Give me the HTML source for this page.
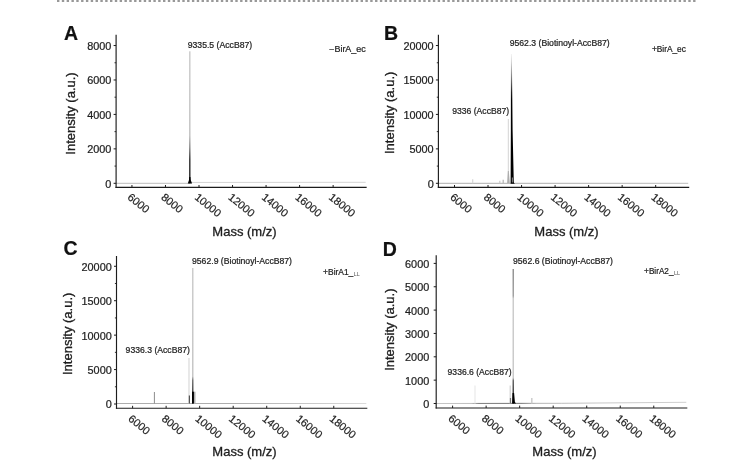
<!DOCTYPE html>
<html><head><meta charset="utf-8"><title>Mass spectra</title>
<style>html,body{margin:0;padding:0;background:#fff}svg{display:block;filter:blur(0.35px)}text{font-family:"Liberation Sans",sans-serif;stroke:#1e1e1e;stroke-width:0.22px}</style>
</head><body>
<svg width="733" height="474" viewBox="0 0 733 474">
<rect width="733" height="474" fill="#fff"/>
<line x1="57" y1="1" x2="696" y2="1" stroke="#989898" stroke-width="2.2" stroke-dasharray="2.4 2.419"/>
<text x="63.9" y="39.8" font-size="19.5" font-weight="bold" fill="#111">A</text>
<line x1="116.1" y1="183.3" x2="189.5" y2="183.3" stroke="#bcbcbc" stroke-width="1"/>
<line x1="190.5" y1="182.45000000000002" x2="365.65999999999997" y2="182.3" stroke="#d4d4d4" stroke-width="1"/>
<defs><linearGradient id="gA" x1="0" y1="0" x2="0" y2="1"><stop offset="0" stop-color="#c4c4c4"/><stop offset="0.64" stop-color="#b8b8b8"/><stop offset="0.73" stop-color="#777"/><stop offset="0.82" stop-color="#161616"/><stop offset="1" stop-color="#000"/></linearGradient></defs>
<rect x="189.20000000000002" y="51.3" width="1.25" height="132.0" fill="url(#gA)"/>
<path d="M189.20000000000002,177 L190.45000000000002,177 L190.70000000000002,180 L192.10000000000002,183.60000000000002 L187.8,183.60000000000002 L189.0,180 Z" fill="#000"/>
<line x1="116.1" y1="34.8" x2="116.1" y2="188.0" stroke="#1c1c1c" stroke-width="1.15"/>
<line x1="115.53" y1="187.4" x2="366.65999999999997" y2="187.4" stroke="#1c1c1c" stroke-width="1.1"/>
<line x1="113.6" y1="183.3" x2="116.1" y2="183.3" stroke="#1c1c1c" stroke-width="1"/>
<text x="111.39999999999999" y="187.70000000000002" font-size="10.9" text-anchor="end" fill="#1e1e1e">0</text>
<line x1="114.5" y1="166.08" x2="116.1" y2="166.08" stroke="#1c1c1c" stroke-width="0.9"/>
<line x1="113.6" y1="148.86" x2="116.1" y2="148.86" stroke="#1c1c1c" stroke-width="1"/>
<text x="111.39999999999999" y="153.26000000000002" font-size="10.9" text-anchor="end" fill="#1e1e1e">2000</text>
<line x1="114.5" y1="131.64000000000001" x2="116.1" y2="131.64000000000001" stroke="#1c1c1c" stroke-width="0.9"/>
<line x1="113.6" y1="114.42000000000002" x2="116.1" y2="114.42000000000002" stroke="#1c1c1c" stroke-width="1"/>
<text x="111.39999999999999" y="118.82000000000002" font-size="10.9" text-anchor="end" fill="#1e1e1e">4000</text>
<line x1="114.5" y1="97.20000000000002" x2="116.1" y2="97.20000000000002" stroke="#1c1c1c" stroke-width="0.9"/>
<line x1="113.6" y1="79.98000000000002" x2="116.1" y2="79.98000000000002" stroke="#1c1c1c" stroke-width="1"/>
<text x="111.39999999999999" y="84.38000000000002" font-size="10.9" text-anchor="end" fill="#1e1e1e">6000</text>
<line x1="114.5" y1="62.76000000000002" x2="116.1" y2="62.76000000000002" stroke="#1c1c1c" stroke-width="0.9"/>
<line x1="113.6" y1="45.54000000000002" x2="116.1" y2="45.54000000000002" stroke="#1c1c1c" stroke-width="1"/>
<text x="111.39999999999999" y="49.94000000000002" font-size="10.9" text-anchor="end" fill="#1e1e1e">8000</text>
<line x1="131.95" y1="185.0" x2="131.95" y2="187.4" stroke="#1c1c1c" stroke-width="1"/>
<text transform="translate(126.85,198.4) rotate(39)" font-size="10.9" fill="#1e1e1e">6000</text>
<line x1="165.48" y1="185.0" x2="165.48" y2="187.4" stroke="#1c1c1c" stroke-width="1"/>
<text transform="translate(160.38,198.4) rotate(39)" font-size="10.9" fill="#1e1e1e">8000</text>
<line x1="199.01" y1="185.0" x2="199.01" y2="187.4" stroke="#1c1c1c" stroke-width="1"/>
<text transform="translate(193.91,198.4) rotate(39)" font-size="10.9" fill="#1e1e1e">10000</text>
<line x1="232.54" y1="185.0" x2="232.54" y2="187.4" stroke="#1c1c1c" stroke-width="1"/>
<text transform="translate(227.44,198.4) rotate(39)" font-size="10.9" fill="#1e1e1e">12000</text>
<line x1="266.07" y1="185.0" x2="266.07" y2="187.4" stroke="#1c1c1c" stroke-width="1"/>
<text transform="translate(260.96999999999997,198.4) rotate(39)" font-size="10.9" fill="#1e1e1e">14000</text>
<line x1="299.6" y1="185.0" x2="299.6" y2="187.4" stroke="#1c1c1c" stroke-width="1"/>
<text transform="translate(294.5,198.4) rotate(39)" font-size="10.9" fill="#1e1e1e">16000</text>
<line x1="333.13" y1="185.0" x2="333.13" y2="187.4" stroke="#1c1c1c" stroke-width="1"/>
<text transform="translate(328.03,198.4) rotate(39)" font-size="10.9" fill="#1e1e1e">18000</text>
<text x="244.5" y="235.5" font-size="13" text-anchor="middle" fill="#1e1e1e" style="stroke-width:0.32px">Mass (m/z)</text>
<text transform="translate(74.7,113.5) rotate(-90)" font-size="13" text-anchor="middle" fill="#1e1e1e" style="stroke-width:0.32px">Intensity (a.u.)</text>
<text x="187.7" y="47.7" font-size="8.2" textLength="64.5" lengthAdjust="spacingAndGlyphs" fill="#1e1e1e">9335.5 (AccB87)</text>
<text x="329.2" y="52.4" font-size="8.2" textLength="36.6" lengthAdjust="spacingAndGlyphs" fill="#1e1e1e">−BirA_ec</text>
<text x="383.9" y="39.5" font-size="19.5" font-weight="bold" fill="#111">B</text>
<defs><linearGradient id="bgB" gradientUnits="userSpaceOnUse" x1="438.4" y1="0" x2="689.21" y2="0"><stop offset="0" stop-color="#adadad"/><stop offset="0.45" stop-color="#adadad"/><stop offset="1" stop-color="#bcbcbc"/></linearGradient></defs>
<path d="M438.4,183.3 L688.21,183.3" stroke="url(#bgB)" stroke-width="1" fill="none"/>
<line x1="508.3" y1="119" x2="508.3" y2="183.3" stroke="#d4d4d4" stroke-width="1"/>
<path d="M507.90000000000003,171 L508.8,171 L509.8,183.3 L507.1,183.3 Z" fill="#adadad"/>
<defs><linearGradient id="gB" x1="0" y1="0" x2="0" y2="1"><stop offset="0" stop-color="#f2f2f2"/><stop offset="0.062" stop-color="#d2d2d2"/><stop offset="0.131" stop-color="#a4a4a4"/><stop offset="0.216" stop-color="#646464"/><stop offset="0.293" stop-color="#222"/><stop offset="0.355" stop-color="#000"/><stop offset="1" stop-color="#000"/></linearGradient></defs>
<path d="M510.95,54 L511.85,54 L512.6,130 L513.8,182.5 L514.8,183.70000000000002 L510.6,183.70000000000002 L510.85,130 Z" fill="url(#gB)"/>
<rect x="511.9" y="177.5" width="0.7" height="5" fill="#ccc"/>
<line x1="472.7" y1="179.3" x2="472.7" y2="183.3" stroke="#d6d6d6" stroke-width="1.2"/>
<line x1="499.8" y1="180.8" x2="499.8" y2="183.3" stroke="#cacaca" stroke-width="1.2"/>
<line x1="503.2" y1="179.8" x2="503.2" y2="183.3" stroke="#b4b4b4" stroke-width="1.2"/>
<line x1="438.4" y1="34.8" x2="438.4" y2="188.0" stroke="#1c1c1c" stroke-width="1.15"/>
<line x1="437.83" y1="187.4" x2="689.21" y2="187.4" stroke="#1c1c1c" stroke-width="1.1"/>
<line x1="435.9" y1="183.3" x2="438.4" y2="183.3" stroke="#1c1c1c" stroke-width="1"/>
<text x="433.7" y="187.70000000000002" font-size="10.9" text-anchor="end" fill="#1e1e1e">0</text>
<line x1="436.79999999999995" y1="166.08" x2="438.4" y2="166.08" stroke="#1c1c1c" stroke-width="0.9"/>
<line x1="435.9" y1="148.86" x2="438.4" y2="148.86" stroke="#1c1c1c" stroke-width="1"/>
<text x="433.7" y="153.26000000000002" font-size="10.9" text-anchor="end" fill="#1e1e1e">5000</text>
<line x1="436.79999999999995" y1="131.64000000000001" x2="438.4" y2="131.64000000000001" stroke="#1c1c1c" stroke-width="0.9"/>
<line x1="435.9" y1="114.42000000000002" x2="438.4" y2="114.42000000000002" stroke="#1c1c1c" stroke-width="1"/>
<text x="433.7" y="118.82000000000002" font-size="10.9" text-anchor="end" fill="#1e1e1e">10000</text>
<line x1="436.79999999999995" y1="97.20000000000002" x2="438.4" y2="97.20000000000002" stroke="#1c1c1c" stroke-width="0.9"/>
<line x1="435.9" y1="79.98000000000002" x2="438.4" y2="79.98000000000002" stroke="#1c1c1c" stroke-width="1"/>
<text x="433.7" y="84.38000000000002" font-size="10.9" text-anchor="end" fill="#1e1e1e">15000</text>
<line x1="436.79999999999995" y1="62.76000000000002" x2="438.4" y2="62.76000000000002" stroke="#1c1c1c" stroke-width="0.9"/>
<line x1="435.9" y1="45.54000000000002" x2="438.4" y2="45.54000000000002" stroke="#1c1c1c" stroke-width="1"/>
<text x="433.7" y="49.94000000000002" font-size="10.9" text-anchor="end" fill="#1e1e1e">20000</text>
<line x1="454.5" y1="185.0" x2="454.5" y2="187.4" stroke="#1c1c1c" stroke-width="1"/>
<text transform="translate(449.4,198.4) rotate(39)" font-size="10.9" fill="#1e1e1e">6000</text>
<line x1="488.03" y1="185.0" x2="488.03" y2="187.4" stroke="#1c1c1c" stroke-width="1"/>
<text transform="translate(482.92999999999995,198.4) rotate(39)" font-size="10.9" fill="#1e1e1e">8000</text>
<line x1="521.56" y1="185.0" x2="521.56" y2="187.4" stroke="#1c1c1c" stroke-width="1"/>
<text transform="translate(516.4599999999999,198.4) rotate(39)" font-size="10.9" fill="#1e1e1e">10000</text>
<line x1="555.09" y1="185.0" x2="555.09" y2="187.4" stroke="#1c1c1c" stroke-width="1"/>
<text transform="translate(549.99,198.4) rotate(39)" font-size="10.9" fill="#1e1e1e">12000</text>
<line x1="588.62" y1="185.0" x2="588.62" y2="187.4" stroke="#1c1c1c" stroke-width="1"/>
<text transform="translate(583.52,198.4) rotate(39)" font-size="10.9" fill="#1e1e1e">14000</text>
<line x1="622.15" y1="185.0" x2="622.15" y2="187.4" stroke="#1c1c1c" stroke-width="1"/>
<text transform="translate(617.05,198.4) rotate(39)" font-size="10.9" fill="#1e1e1e">16000</text>
<line x1="655.6800000000001" y1="185.0" x2="655.6800000000001" y2="187.4" stroke="#1c1c1c" stroke-width="1"/>
<text transform="translate(650.58,198.4) rotate(39)" font-size="10.9" fill="#1e1e1e">18000</text>
<text x="566.5" y="235.5" font-size="13" text-anchor="middle" fill="#1e1e1e" style="stroke-width:0.32px">Mass (m/z)</text>
<text transform="translate(393.6,112.8) rotate(-90)" font-size="13" text-anchor="middle" fill="#1e1e1e" style="stroke-width:0.32px">Intensity (a.u.)</text>
<text x="509.7" y="45.5" font-size="8.2" textLength="100" lengthAdjust="spacingAndGlyphs" fill="#1e1e1e">9562.3 (Biotinoyl-AccB87)</text>
<text x="452.2" y="114.0" font-size="8.2" textLength="57" lengthAdjust="spacingAndGlyphs" fill="#1e1e1e">9336 (AccB87)</text>
<text x="651.9" y="52.4" font-size="8.2" textLength="34.0" lengthAdjust="spacingAndGlyphs" fill="#1e1e1e">+BirA_ec</text>
<text x="63.4" y="255.3" font-size="19.5" font-weight="bold" fill="#111">C</text>
<defs><linearGradient id="bgC" gradientUnits="userSpaceOnUse" x1="116.5" y1="0" x2="367.31" y2="0"><stop offset="0" stop-color="#adadad"/><stop offset="0.45" stop-color="#adadad"/><stop offset="1" stop-color="#dcdcdc"/></linearGradient></defs>
<path d="M116.5,403.5 L366.31,403.5" stroke="url(#bgC)" stroke-width="1" fill="none"/>
<defs><linearGradient id="gC" x1="0" y1="0" x2="0" y2="1"><stop offset="0" stop-color="#c0c0c0"/><stop offset="0.8" stop-color="#b8b8b8"/><stop offset="0.83" stop-color="#555"/><stop offset="0.91" stop-color="#222"/><stop offset="0.92" stop-color="#000"/><stop offset="1" stop-color="#000"/></linearGradient></defs>
<rect x="192.20000000000002" y="268" width="1.2" height="135.5" fill="url(#gC)"/>
<rect x="192.0" y="391.7" width="1.9" height="11.800000000000011" fill="#000"/>
<rect x="194.0" y="391.7" width="1.5" height="11.800000000000011" fill="#b0b0b0"/>
<line x1="189.0" y1="358" x2="189.0" y2="403.5" stroke="#d6d6d6" stroke-width="1.1"/>
<line x1="189.4" y1="395.5" x2="189.4" y2="403.5" stroke="#555" stroke-width="1.2"/>
<line x1="154.4" y1="392" x2="154.4" y2="403.5" stroke="#8c8c8c" stroke-width="1"/>
<line x1="116.5" y1="256" x2="116.5" y2="408.8" stroke="#1c1c1c" stroke-width="1.15"/>
<line x1="115.93" y1="408.2" x2="367.31" y2="408.2" stroke="#1c1c1c" stroke-width="1.1"/>
<line x1="114.0" y1="404.0" x2="116.5" y2="404.0" stroke="#1c1c1c" stroke-width="1"/>
<text x="111.8" y="408.4" font-size="10.9" text-anchor="end" fill="#1e1e1e">0</text>
<line x1="114.9" y1="386.785" x2="116.5" y2="386.785" stroke="#1c1c1c" stroke-width="0.9"/>
<line x1="114.0" y1="369.57" x2="116.5" y2="369.57" stroke="#1c1c1c" stroke-width="1"/>
<text x="111.8" y="373.96999999999997" font-size="10.9" text-anchor="end" fill="#1e1e1e">5000</text>
<line x1="114.9" y1="352.355" x2="116.5" y2="352.355" stroke="#1c1c1c" stroke-width="0.9"/>
<line x1="114.0" y1="335.14" x2="116.5" y2="335.14" stroke="#1c1c1c" stroke-width="1"/>
<text x="111.8" y="339.53999999999996" font-size="10.9" text-anchor="end" fill="#1e1e1e">10000</text>
<line x1="114.9" y1="317.925" x2="116.5" y2="317.925" stroke="#1c1c1c" stroke-width="0.9"/>
<line x1="114.0" y1="300.71000000000004" x2="116.5" y2="300.71000000000004" stroke="#1c1c1c" stroke-width="1"/>
<text x="111.8" y="305.11" font-size="10.9" text-anchor="end" fill="#1e1e1e">15000</text>
<line x1="114.9" y1="283.49500000000006" x2="116.5" y2="283.49500000000006" stroke="#1c1c1c" stroke-width="0.9"/>
<line x1="114.0" y1="266.28" x2="116.5" y2="266.28" stroke="#1c1c1c" stroke-width="1"/>
<text x="111.8" y="270.67999999999995" font-size="10.9" text-anchor="end" fill="#1e1e1e">20000</text>
<line x1="132.6" y1="405.8" x2="132.6" y2="408.2" stroke="#1c1c1c" stroke-width="1"/>
<text transform="translate(127.5,420.0) rotate(39)" font-size="10.9" fill="#1e1e1e">6000</text>
<line x1="166.13" y1="405.8" x2="166.13" y2="408.2" stroke="#1c1c1c" stroke-width="1"/>
<text transform="translate(161.03,420.0) rotate(39)" font-size="10.9" fill="#1e1e1e">8000</text>
<line x1="199.66" y1="405.8" x2="199.66" y2="408.2" stroke="#1c1c1c" stroke-width="1"/>
<text transform="translate(194.56,420.0) rotate(39)" font-size="10.9" fill="#1e1e1e">10000</text>
<line x1="233.19" y1="405.8" x2="233.19" y2="408.2" stroke="#1c1c1c" stroke-width="1"/>
<text transform="translate(228.09,420.0) rotate(39)" font-size="10.9" fill="#1e1e1e">12000</text>
<line x1="266.72" y1="405.8" x2="266.72" y2="408.2" stroke="#1c1c1c" stroke-width="1"/>
<text transform="translate(261.62,420.0) rotate(39)" font-size="10.9" fill="#1e1e1e">14000</text>
<line x1="300.25" y1="405.8" x2="300.25" y2="408.2" stroke="#1c1c1c" stroke-width="1"/>
<text transform="translate(295.15,420.0) rotate(39)" font-size="10.9" fill="#1e1e1e">16000</text>
<line x1="333.78" y1="405.8" x2="333.78" y2="408.2" stroke="#1c1c1c" stroke-width="1"/>
<text transform="translate(328.67999999999995,420.0) rotate(39)" font-size="10.9" fill="#1e1e1e">18000</text>
<text x="244.5" y="456.3" font-size="13" text-anchor="middle" fill="#1e1e1e" style="stroke-width:0.32px">Mass (m/z)</text>
<text transform="translate(71.6,333.8) rotate(-90)" font-size="13" text-anchor="middle" fill="#1e1e1e" style="stroke-width:0.32px">Intensity (a.u.)</text>
<text x="192" y="263.8" font-size="8.2" textLength="100" lengthAdjust="spacingAndGlyphs" fill="#1e1e1e">9562.9 (Biotinoyl-AccB87)</text>
<text x="125.6" y="353.4" font-size="8.2" textLength="64.3" lengthAdjust="spacingAndGlyphs" fill="#1e1e1e">9336.3 (AccB87)</text>
<text x="323.1" y="275.2" font-size="8.2" textLength="30.2" lengthAdjust="spacingAndGlyphs" fill="#1e1e1e">+BirA1_</text>
<text x="353.8" y="275.59999999999997" font-size="4.6" textLength="6" lengthAdjust="spacingAndGlyphs" fill="#555" style="stroke:none">LL</text>
<text x="382.8" y="255.6" font-size="19.5" font-weight="bold" fill="#111">D</text>
<defs><linearGradient id="bgD" gradientUnits="userSpaceOnUse" x1="436.2" y1="0" x2="687.3100000000001" y2="0"><stop offset="0" stop-color="#c6c6c6"/><stop offset="0.14" stop-color="#bdbdbd"/><stop offset="0.17" stop-color="#7c7c7c"/><stop offset="0.34" stop-color="#767676"/><stop offset="0.4" stop-color="#b4b4b4"/><stop offset="0.65" stop-color="#c6c6c6"/><stop offset="1" stop-color="#d0d0d0"/></linearGradient></defs>
<path d="M436.2,403.5 L561.2,403.3 L686.3100000000001,402.3" stroke="url(#bgD)" stroke-width="1" fill="none"/>
<defs><linearGradient id="gD" x1="0" y1="0" x2="0" y2="1"><stop offset="0" stop-color="#7a7a7a"/><stop offset="0.2" stop-color="#8c8c8c"/><stop offset="0.22" stop-color="#c0c0c0"/><stop offset="0.81" stop-color="#bdbdbd"/><stop offset="0.83" stop-color="#444"/><stop offset="0.93" stop-color="#111"/><stop offset="1" stop-color="#000"/></linearGradient></defs>
<rect x="512.6" y="269" width="1.2" height="134.5" fill="url(#gD)"/>
<path d="M512.5,393 L514.1,393 L514.9000000000001,402.0 L516.0,403.5 L512.1,403.5 Z" fill="#000"/>
<line x1="510.2" y1="385.5" x2="510.2" y2="403.5" stroke="#cdcdcd" stroke-width="1.1"/>
<line x1="510.5" y1="398" x2="510.5" y2="403.5" stroke="#777" stroke-width="1.2"/>
<line x1="475.0" y1="385.5" x2="475.0" y2="403.5" stroke="#e9e9e9" stroke-width="1.2"/>
<line x1="531.8" y1="398.0" x2="531.8" y2="403.5" stroke="#cccccc" stroke-width="1.5"/>
<line x1="436.2" y1="255.3" x2="436.2" y2="408.6" stroke="#1c1c1c" stroke-width="1.15"/>
<line x1="435.63" y1="408.0" x2="687.3100000000001" y2="408.0" stroke="#1c1c1c" stroke-width="1.1"/>
<line x1="433.7" y1="403.5" x2="436.2" y2="403.5" stroke="#1c1c1c" stroke-width="1"/>
<text x="429.3" y="407.9" font-size="10.9" text-anchor="end" fill="#1e1e1e">0</text>
<line x1="433.7" y1="380.15" x2="436.2" y2="380.15" stroke="#1c1c1c" stroke-width="1"/>
<text x="429.3" y="384.54999999999995" font-size="10.9" text-anchor="end" fill="#1e1e1e">1000</text>
<line x1="433.7" y1="356.8" x2="436.2" y2="356.8" stroke="#1c1c1c" stroke-width="1"/>
<text x="429.3" y="361.2" font-size="10.9" text-anchor="end" fill="#1e1e1e">2000</text>
<line x1="433.7" y1="333.45" x2="436.2" y2="333.45" stroke="#1c1c1c" stroke-width="1"/>
<text x="429.3" y="337.84999999999997" font-size="10.9" text-anchor="end" fill="#1e1e1e">3000</text>
<line x1="433.7" y1="310.1" x2="436.2" y2="310.1" stroke="#1c1c1c" stroke-width="1"/>
<text x="429.3" y="314.5" font-size="10.9" text-anchor="end" fill="#1e1e1e">4000</text>
<line x1="433.7" y1="286.75" x2="436.2" y2="286.75" stroke="#1c1c1c" stroke-width="1"/>
<text x="429.3" y="291.15" font-size="10.9" text-anchor="end" fill="#1e1e1e">5000</text>
<line x1="433.7" y1="263.4" x2="436.2" y2="263.4" stroke="#1c1c1c" stroke-width="1"/>
<text x="429.3" y="267.79999999999995" font-size="10.9" text-anchor="end" fill="#1e1e1e">6000</text>
<line x1="452.6" y1="405.6" x2="452.6" y2="408.0" stroke="#1c1c1c" stroke-width="1"/>
<text transform="translate(447.5,419.7) rotate(39)" font-size="10.9" fill="#1e1e1e">6000</text>
<line x1="486.13" y1="405.6" x2="486.13" y2="408.0" stroke="#1c1c1c" stroke-width="1"/>
<text transform="translate(481.03,419.7) rotate(39)" font-size="10.9" fill="#1e1e1e">8000</text>
<line x1="519.6600000000001" y1="405.6" x2="519.6600000000001" y2="408.0" stroke="#1c1c1c" stroke-width="1"/>
<text transform="translate(514.5600000000001,419.7) rotate(39)" font-size="10.9" fill="#1e1e1e">10000</text>
<line x1="553.19" y1="405.6" x2="553.19" y2="408.0" stroke="#1c1c1c" stroke-width="1"/>
<text transform="translate(548.09,419.7) rotate(39)" font-size="10.9" fill="#1e1e1e">12000</text>
<line x1="586.72" y1="405.6" x2="586.72" y2="408.0" stroke="#1c1c1c" stroke-width="1"/>
<text transform="translate(581.62,419.7) rotate(39)" font-size="10.9" fill="#1e1e1e">14000</text>
<line x1="620.25" y1="405.6" x2="620.25" y2="408.0" stroke="#1c1c1c" stroke-width="1"/>
<text transform="translate(615.15,419.7) rotate(39)" font-size="10.9" fill="#1e1e1e">16000</text>
<line x1="653.78" y1="405.6" x2="653.78" y2="408.0" stroke="#1c1c1c" stroke-width="1"/>
<text transform="translate(648.68,419.7) rotate(39)" font-size="10.9" fill="#1e1e1e">18000</text>
<text x="564.5" y="456.1" font-size="13" text-anchor="middle" fill="#1e1e1e" style="stroke-width:0.32px">Mass (m/z)</text>
<text transform="translate(394.3,329.65) rotate(-90)" font-size="13" text-anchor="middle" fill="#1e1e1e" style="stroke-width:0.32px">Intensity (a.u.)</text>
<text x="513" y="264" font-size="8.2" textLength="100" lengthAdjust="spacingAndGlyphs" fill="#1e1e1e">9562.6 (Biotinoyl-AccB87)</text>
<text x="447.6" y="374.8" font-size="8.2" textLength="64.0" lengthAdjust="spacingAndGlyphs" fill="#1e1e1e">9336.6 (AccB87)</text>
<text x="644.1" y="274.4" font-size="8.2" textLength="29.4" lengthAdjust="spacingAndGlyphs" fill="#1e1e1e">+BirA2_</text>
<text x="674.0" y="274.79999999999995" font-size="4.6" textLength="6" lengthAdjust="spacingAndGlyphs" fill="#555" style="stroke:none">LL</text>
</svg>
</body></html>
